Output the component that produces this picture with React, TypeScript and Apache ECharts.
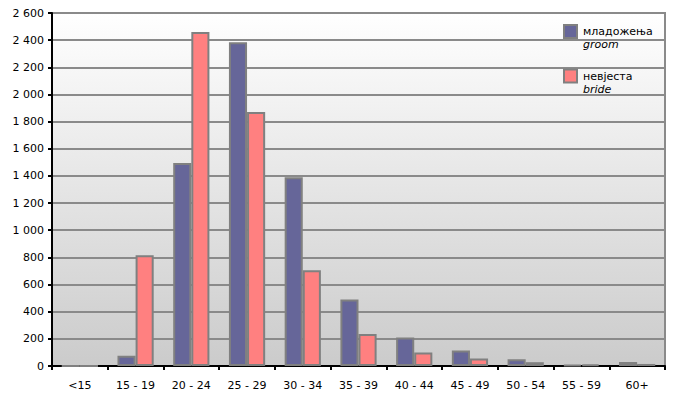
import React, { useEffect, useRef } from "react";
import * as echarts from "echarts";

const categories = ["<15", "15 - 19", "20 - 24", "25 - 29", "30 - 34", "35 - 39", "40 - 44", "45 - 49", "50 - 54", "55 - 59", "60+"];
const groom = [0, 75, 1495, 2385, 1390, 490, 210, 115, 50, 8, 30];
const bride = [0, 815, 2460, 1870, 705, 235, 100, 55, 28, 12, 15];
const yTicks = { min: 0, max: 2600, interval: 200 };
const seriesNames = ["младожења", "невјеста"];
const seriesSubNames = ["groom", "bride"];
const seriesColors = ["#666699", "#ff8080"];

const fmt = (v: number) => {
  const s = String(v);
  return s.length > 3 ? s.slice(0, s.length - 3) + " " + s.slice(s.length - 3) : s;
};

export default function App() {
  const ref = useRef<HTMLDivElement>(null);
  useEffect(() => {
    if (!ref.current) return;
    const chart = echarts.init(ref.current, null, { renderer: "svg" });
    const font = "'DejaVu Sans', Verdana, sans-serif";
    const markerStyle = (c: string) => ({
      width: 11,
      height: 11,
      backgroundColor: c,
      borderColor: "#808080",
      borderWidth: 2,
    });
    chart.setOption({
      animation: false,
      textStyle: { fontFamily: font },
      grid: {
        left: 52,
        top: 13,
        right: 23,
        bottom: 32,
        show: true,
        borderColor: "#8a8a8a",
        borderWidth: 2,
        backgroundColor: new echarts.graphic.LinearGradient(0, 0, 0, 1, [
          { offset: 0, color: "#ffffff" },
          { offset: 1, color: "#cbcbcb" },
        ]),
      },
      legend: {
        orient: "vertical",
        left: 554,
        top: 19,
        itemWidth: 1,
        itemHeight: 1,
        itemGap: 18,
        icon: "none",
        align: "left",
        formatter: (name: string) => {
          const i = seriesNames.indexOf(name);
          return `{m${i}|}{a|${name}}\n{s|}{b|${seriesSubNames[i]}}`;
        },
        textStyle: {
          rich: {
            m0: markerStyle(seriesColors[0]),
            m1: markerStyle(seriesColors[1]),
            a: { fontSize: 11, color: "#000", fontFamily: font, lineHeight: 13, padding: [0, 0, 0, 7] },
            s: { width: 18, height: 1 },
            b: { fontSize: 11, color: "#000", fontFamily: font, fontStyle: "italic", lineHeight: 13 },
          },
        },
      },
      xAxis: {
        type: "category",
        data: categories,
        axisLine: { lineStyle: { color: "#000", width: 2 } },
        axisTick: { show: true, length: 4, lineStyle: { color: "#000", width: 2 } },
        axisLabel: { color: "#000", fontSize: 11, margin: 14, fontFamily: font, interval: 0 },
        splitLine: { show: false },
      },
      yAxis: {
        type: "value",
        min: yTicks.min,
        max: yTicks.max,
        interval: yTicks.interval,
        axisLine: { show: true, lineStyle: { color: "#000", width: 2 } },
        axisTick: { show: true, length: 4, lineStyle: { color: "#000", width: 2 } },
        axisLabel: { color: "#000", fontSize: 11, margin: 8, fontFamily: font, formatter: fmt },
        splitLine: { show: true, lineStyle: { color: "#8a8a8a", width: 2 } },
      },
      series: [
        {
          name: seriesNames[0],
          type: "bar",
          data: groom,
          barGap: "0%",
          barCategoryGap: "35%",
          itemStyle: { color: seriesColors[0], borderColor: "#808080", borderWidth: 2 },
        },
        {
          name: seriesNames[1],
          type: "bar",
          data: bride,
          itemStyle: { color: seriesColors[1], borderColor: "#808080", borderWidth: 2 },
        },
      ],
    });
    return () => chart.dispose();
  }, []);
  return <div ref={ref} style={{ width: 688, height: 398, margin: -8 }} />;
}
